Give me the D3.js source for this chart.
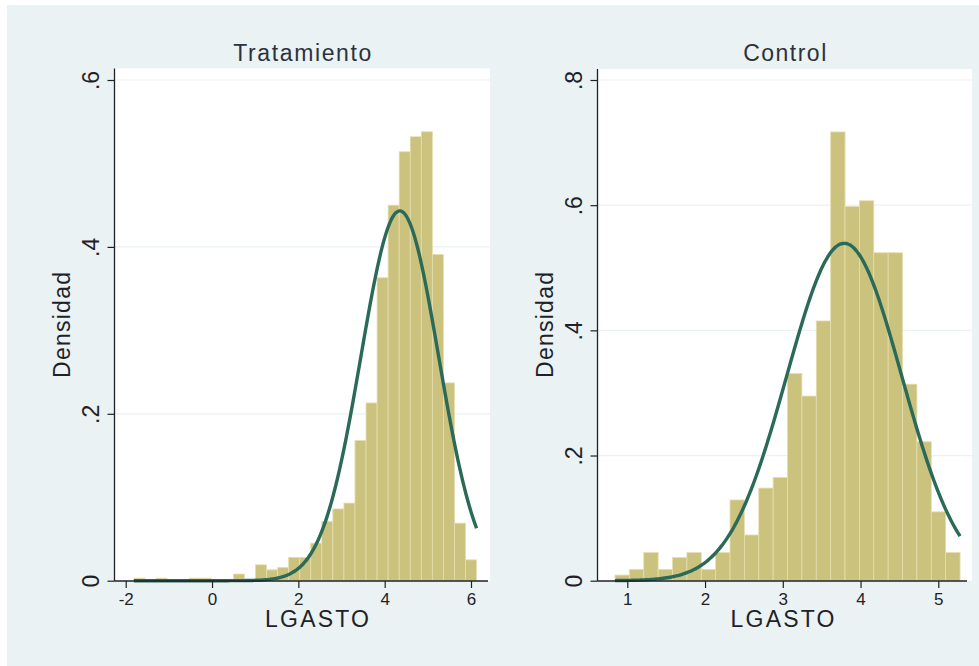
<!DOCTYPE html>
<html>
<head>
<meta charset="utf-8">
<script src="https://cdn.jsdelivr.net/npm/d3@7"></script>
<style>
  body { margin: 0; background: #ffffff; }
  svg { display: block; font-family: "Liberation Sans", Arial, sans-serif; }
</style>
</head>
<body>
<div id="chart"></div>
<script>
// Histogram densities (Stata histogram, normal overlay)
const tratBinStart = -1.81;
const tratBinWidth = 0.2561;
const tratDensity = [0.003, 0.0, 0.003, 0.0, 0.0, 0.003, 0.003, 0.0, 0.0, 0.008,
  0.0, 0.019, 0.013, 0.016, 0.028, 0.028, 0.045, 0.071, 0.086, 0.093,
  0.168, 0.213, 0.363, 0.450, 0.514, 0.532, 0.538, 0.391, 0.237, 0.069, 0.025];
const tratMean = 4.35;
const tratSd = 0.90;

const ctrlBinStart = 0.842;
const ctrlBinWidth = 0.1849;
const ctrlDensity = [0.009, 0.018, 0.045, 0.018, 0.037, 0.045, 0.018, 0.045, 0.129, 0.073,
  0.148, 0.165, 0.331, 0.295, 0.415, 0.717, 0.598, 0.607, 0.524, 0.524,
  0.314, 0.222, 0.110, 0.045];
const ctrlMean = 3.79;
const ctrlSd = 0.74;

const tratXTicks = [-2, 0, 2, 4, 6];
const ctrlXTicks = [1, 2, 3, 4, 5];
const tratYTicks = [0, 0.2, 0.4, 0.6];
const ctrlYTicks = [0, 0.2, 0.4, 0.6, 0.8];

const panelTitles = ["Tratamiento", "Control"];
const xTitle = "LGASTO";
const yTitle = "Densidad";

const W = 979, H = 666;
const barColor = "#cbc27d";
const barEdge = "#e4deae";
const curveColor = "#2b6a59";
const bgColor = "#eaf2f3";
const inkColor = "#1e2228";

const svg = d3.select("#chart").append("svg")
  .attr("width", W)
  .attr("height", H);

svg.append("rect")
  .attr("x", 7).attr("y", 5)
  .attr("width", W - 7).attr("height", H - 5)
  .attr("fill", bgColor);

function fmtY(v) {
  if (v === 0) return "0";
  return d3.format(".1f")(v).replace(/^0/, "");
}

function drawPanel(opt) {
  const g = svg.append("g");
  const plot = opt.plot;

  const x = d3.scaleLinear().domain(opt.xDomain).range(opt.xRange);
  const y = d3.scaleLinear().domain(opt.yDomain).range([580.7, 80]);

  // white plot region
  g.append("rect")
    .attr("x", plot.left).attr("y", plot.top)
    .attr("width", plot.right - plot.left)
    .attr("height", 581 - plot.top)
    .attr("fill", "#ffffff");

  // grid lines
  g.selectAll(".grid")
    .data(opt.yTicks.filter(d => d > 0))
    .enter()
    .append("line")
    .attr("x1", plot.left).attr("x2", plot.right)
    .attr("y1", d => y(d)).attr("y2", d => y(d))
    .attr("stroke", bgColor)
    .attr("stroke-width", 1.2);

  // bars
  const bins = opt.density.map((d, i) => ({
    x0: opt.binStart + i * opt.binWidth,
    x1: opt.binStart + (i + 1) * opt.binWidth,
    v: d
  })).filter(b => b.v > 0);

  g.selectAll(".bar")
    .data(bins)
    .enter()
    .append("rect")
    .attr("x", d => x(d.x0))
    .attr("width", d => x(d.x1) - x(d.x0))
    .attr("y", d => y(d.v))
    .attr("height", d => y(0) - y(d.v))
    .attr("fill", barColor)
    .attr("stroke", barEdge)
    .attr("stroke-width", 0.8);

  // fitted normal curve over the data range
  const lo = opt.binStart;
  const hi = opt.binStart + opt.density.length * opt.binWidth;
  const xs = d3.range(0, 201).map(i => lo + (hi - lo) * i / 200);
  const normal = v => Math.exp(-0.5 * ((v - opt.mean) / opt.sd) ** 2) / (opt.sd * Math.sqrt(2 * Math.PI));

  const line = d3.line()
    .x(d => x(d))
    .y(d => y(normal(d)))
    .curve(d3.curveBasis);

  g.append("path")
    .datum(xs)
    .attr("fill", "none")
    .attr("stroke", curveColor)
    .attr("stroke-width", 3.4)
    .attr("stroke-linejoin", "round")
    .attr("d", line);

  // x axis
  const xAxis = g.append("g")
    .attr("transform", `translate(0, 581)`)
    .call(d3.axisBottom(x).tickValues(opt.xTicks).tickSize(7).tickPadding(4).tickSizeOuter(0).tickFormat(d3.format("d")));
  xAxis.select(".domain")
    .attr("d", `M${plot.left},0H${opt.xAxisEnd}`)
    .attr("stroke", inkColor)
    .attr("stroke-width", 1.3);
  xAxis.selectAll(".tick line").attr("stroke", inkColor).attr("stroke-width", 1.2);
  xAxis.selectAll(".tick text")
    .attr("fill", inkColor)
    .style("font-size", "17px")
    .attr("dy", "0.75em")
    .text(d => d < 0 ? "-" + Math.abs(d) : d);

  // y axis
  const yAxis = g.append("g")
    .attr("transform", `translate(${plot.left}, 0)`)
    .call(d3.axisLeft(y).tickValues(opt.yTicks).tickSize(7).tickSizeOuter(0).tickFormat(fmtY));
  yAxis.select(".domain")
    .attr("d", `M0,${plot.top}V581`)
    .attr("stroke", inkColor)
    .attr("stroke-width", 1.3);
  yAxis.selectAll(".tick line").attr("stroke", inkColor).attr("stroke-width", 1.2);
  yAxis.selectAll(".tick text")
    .attr("fill", inkColor)
    .style("font-size", "23px")
    .attr("x", -16)
    .attr("dy", 0)
    .attr("text-anchor", "middle")
    .attr("transform", "rotate(-90, -16, 0)");

  // panel title
  g.append("text")
    .attr("x", (plot.left + plot.right) / 2)
    .attr("y", 61)
    .attr("text-anchor", "middle")
    .attr("fill", "#2c323c")
    .attr("textLength", opt.titleLength)
    .attr("lengthAdjust", "spacing")
    .style("font-size", "23px")
    .text(opt.title);

  // axis titles
  g.append("text")
    .attr("x", opt.xTitleX)
    .attr("y", 627)
    .attr("text-anchor", "middle")
    .attr("fill", inkColor)
    .attr("textLength", 104)
    .attr("lengthAdjust", "spacing")
    .style("font-size", "23px")
    .text(xTitle);

  g.append("text")
    .attr("transform", `translate(${plot.left - 45}, 325) rotate(-90)`)
    .attr("text-anchor", "middle")
    .attr("fill", inkColor)
    .attr("textLength", 106)
    .attr("lengthAdjust", "spacing")
    .style("font-size", "23px")
    .text(yTitle);
}

drawPanel({
  title: panelTitles[0],
  titleLength: 138,
  plot: { left: 114.5, right: 490, top: 68.5 },
  xAxisEnd: 488,
  xDomain: [-2, 6], xRange: [125.7, 471],
  yDomain: [0, 0.6],
  xTicks: tratXTicks, yTicks: tratYTicks,
  binStart: tratBinStart, binWidth: tratBinWidth, density: tratDensity,
  mean: tratMean, sd: tratSd,
  xTitleX: 317
});

drawPanel({
  title: panelTitles[1],
  titleLength: 83,
  plot: { left: 597.5, right: 972, top: 69 },
  xAxisEnd: 967,
  xDomain: [1, 5], xRange: [627.3, 938.3],
  yDomain: [0, 0.8],
  xTicks: ctrlXTicks, yTicks: ctrlYTicks,
  binStart: ctrlBinStart, binWidth: ctrlBinWidth, density: ctrlDensity,
  mean: ctrlMean, sd: ctrlSd,
  xTitleX: 782.5
});
</script>
</body>
</html>
